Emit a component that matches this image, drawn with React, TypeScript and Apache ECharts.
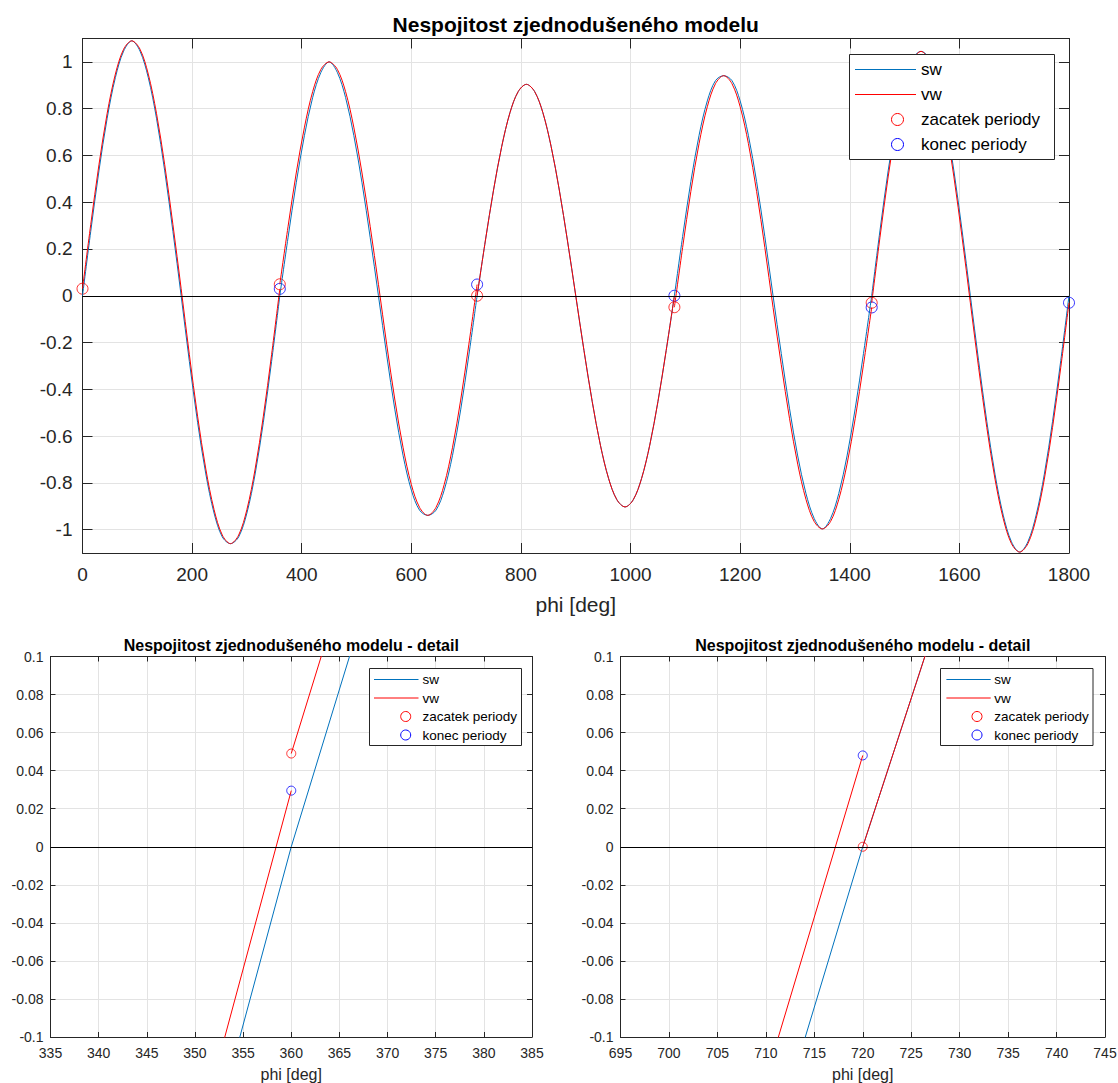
import React, { useEffect, useRef } from "react";
import * as echarts from "echarts";

const FONT = 'Arial, "Liberation Sans", Helvetica, sans-serif';
const AXIS_COLOR = "#262626";
const GRID_COLOR = "#e3e3e3";
const SW_COLOR = "#0072BD";
const VW_COLOR = "#FF0000";
const START_COLOR = "#FF0000";
const END_COLOR = "#0000FF";

// Angle samples within one period [deg]
const phiLocal = [0, 15, 30, 45, 60, 75, 90, 105, 120, 135, 150, 165, 180, 195, 210, 225, 240, 255, 270, 285, 300, 315, 330, 345, 360];
const periodStart = [0, 360, 720, 1080, 1440];

// sw per period
const swP0 = [0, 0.275, 0.534, 0.759, 0.933, 1.046, 1.09, 1.046, 0.933, 0.759, 0.534, 0.275, 0, -0.281, -0.541, -0.762, -0.929, -1.031, -1.06, -1.031, -0.929, -0.762, -0.541, -0.281, 0];
const swP1 = [0, 0.248, 0.483, 0.686, 0.848, 0.955, 1.0, 0.955, 0.848, 0.686, 0.483, 0.248, 0, -0.253, -0.488, -0.684, -0.831, -0.917, -0.939, -0.917, -0.831, -0.684, -0.488, -0.253, 0];
const swP2 = [0, 0.234, 0.452, 0.639, 0.783, 0.873, 0.904, 0.873, 0.783, 0.639, 0.452, 0.234, 0, -0.234, -0.452, -0.639, -0.782, -0.872, -0.903, -0.872, -0.782, -0.639, -0.452, -0.234, 0];
const swP3 = [0, 0.253, 0.488, 0.686, 0.833, 0.92, 0.941, 0.92, 0.833, 0.686, 0.488, 0.253, 0, -0.247, -0.481, -0.685, -0.845, -0.952, -0.997, -0.952, -0.845, -0.685, -0.481, -0.247, 0];
const swP4 = [0, 0.277, 0.534, 0.751, 0.916, 1.016, 1.045, 1.016, 0.916, 0.751, 0.534, 0.277, 0, -0.277, -0.537, -0.763, -0.938, -1.052, -1.096, -1.052, -0.938, -0.763, -0.537, -0.277, 0];

// vw per period (discontinuous at period boundaries)
const vwP0 = [0.03, 0.304, 0.56, 0.78, 0.948, 1.054, 1.09, 1.054, 0.948, 0.78, 0.56, 0.304, 0.03, -0.252, -0.515, -0.741, -0.914, -1.023, -1.06, -1.023, -0.914, -0.741, -0.515, -0.252, 0.0295];
const vwP1 = [0.049, 0.295, 0.525, 0.721, 0.873, 0.968, 1.0, 0.968, 0.873, 0.721, 0.525, 0.295, 0.049, -0.207, -0.446, -0.65, -0.807, -0.905, -0.939, -0.905, -0.807, -0.65, -0.446, -0.207, 0.048];
const vwP2 = [0, 0.234, 0.452, 0.639, 0.783, 0.873, 0.904, 0.873, 0.783, 0.639, 0.452, 0.234, 0, -0.234, -0.452, -0.639, -0.782, -0.872, -0.903, -0.872, -0.782, -0.639, -0.452, -0.234, 0];
const vwP3 = [-0.049, 0.206, 0.446, 0.651, 0.808, 0.907, 0.941, 0.907, 0.808, 0.651, 0.446, 0.206, -0.05, -0.295, -0.524, -0.72, -0.87, -0.965, -0.997, -0.965, -0.87, -0.72, -0.524, -0.295, -0.05];
const vwP4 = [-0.03, 0.248, 0.508, 0.73, 0.901, 1.008, 1.045, 1.008, 0.901, 0.73, 0.508, 0.248, -0.03, -0.306, -0.563, -0.784, -0.953, -1.06, -1.096, -1.06, -0.953, -0.784, -0.563, -0.306, -0.03];

// Period start / end points of vw
const startPhi = [0, 360, 720, 1080, 1440];
const startVal = [0.03, 0.049, 0, -0.049, -0.03];
const endPhi = [360, 720, 1080, 1440, 1800];
const endVal = [0.0295, 0.048, 0, -0.05, -0.03];

const yTicksMain = [-1, -0.8, -0.6, -0.4, -0.2, 0, 0.2, 0.4, 0.6, 0.8, 1];
const legendLabels = ["sw", "vw", "zacatek periody", "konec periody"];

const swPeriods = [swP0, swP1, swP2, swP3, swP4];
const vwPeriods = [vwP0, vwP1, vwP2, vwP3, vwP4];

type Panel = {
  left: number; top: number; width: number; height: number;
  xMin: number; xMax: number; xStep: number;
  yMin: number; yMax: number; yStep?: number; yTicks?: number[];
  tickFont: number; nameFont: number; titleFont: number; title: string; titleY: number;
  tickLen: number; xLabelMargin: number; yLabelMargin: number; nameGap: number;
  symbolSize: number; smooth: number | boolean;
  legend: { x: number; y: number; w: number; h: number; rows: number[]; lx0: number; lx1: number; mx: number; tx: number; font: number; r: number };
};

const panels: Panel[] = [
  {
    left: 82.5, top: 38.5, width: 986.5, height: 514.5,
    xMin: 0, xMax: 1800, xStep: 200, yMin: -1.1, yMax: 1.1, yTicks: yTicksMain,
    tickFont: 19, nameFont: 21, titleFont: 21, title: "Nespojitost zjednodušeného modelu", titleY: 24,
    tickLen: 10, xLabelMargin: 12, yLabelMargin: 10, nameGap: 41, symbolSize: 11, smooth: 0.33,
    legend: { x: 849.5, y: 54.5, w: 205, h: 105, rows: [69.5, 94.5, 119.5, 144.5], lx0: 855, lx1: 916, mx: 897.5, tx: 921, font: 17, r: 6 },
  },
  {
    left: 50.5, top: 656.5, width: 481.5, height: 380.5,
    xMin: 335, xMax: 385, xStep: 5, yMin: -0.1, yMax: 0.1, yStep: 0.02,
    tickFont: 14, nameFont: 16, titleFont: 16, title: "Nespojitost zjednodušeného modelu - detail", titleY: 645,
    tickLen: 5, xLabelMargin: 9, yLabelMargin: 7, nameGap: 29, symbolSize: 9, smooth: false,
    legend: { x: 369.5, y: 668.5, w: 152, h: 77, rows: [679.5, 698, 716.5, 735], lx0: 374, lx1: 418.5, mx: 405.7, tx: 422.5, font: 13.5, r: 5 },
  },
  {
    left: 620.5, top: 656.5, width: 484.5, height: 380.5,
    xMin: 695, xMax: 745, xStep: 5, yMin: -0.1, yMax: 0.1, yStep: 0.02,
    tickFont: 14, nameFont: 16, titleFont: 16, title: "Nespojitost zjednodušeného modelu - detail", titleY: 645,
    tickLen: 5, xLabelMargin: 9, yLabelMargin: 7, nameGap: 29, symbolSize: 9, smooth: false,
    legend: { x: 940.5, y: 668.5, w: 152.5, h: 77, rows: [679.5, 698, 716.5, 735], lx0: 946.4, lx1: 990.7, mx: 977, tx: 994.3, font: 13.5, r: 5 },
  },
];

function legendGraphic(p: Panel) {
  const L = p.legend;
  const els: any[] = [
    { type: "rect", z: 100, shape: { x: L.x, y: L.y, width: L.w, height: L.h }, style: { fill: "#ffffff", stroke: AXIS_COLOR, lineWidth: 1 } },
  ];
  legendLabels.forEach((label, i) => {
    const y = L.rows[i];
    if (i < 2) {
      els.push({ type: "line", z: 101, shape: { x1: L.lx0, y1: y, x2: L.lx1, y2: y }, style: { stroke: i === 0 ? SW_COLOR : VW_COLOR, lineWidth: 1 } });
    } else {
      els.push({ type: "circle", z: 101, shape: { cx: L.mx, cy: y, r: L.r }, style: { fill: "transparent", stroke: i === 2 ? START_COLOR : END_COLOR, lineWidth: 1 } });
    }
    els.push({ type: "text", z: 101, x: L.tx, y, style: { text: label, fontSize: L.font, fontFamily: FONT, fill: "#000000", align: "left", verticalAlign: "middle" } });
  });
  return els;
}

const plainNumber = (v: number) => String(v);

function buildOption() {
  const grid: any[] = [];
  const xAxis: any[] = [];
  const yAxis: any[] = [];
  const series: any[] = [];
  const graphic: any[] = [];

  panels.forEach((p, gi) => {
    grid.push({ left: p.left, top: p.top, width: p.width, height: p.height, containLabel: false, outerBoundsMode: "none" });
    const tick = { show: true, inside: true, length: p.tickLen, lineStyle: { color: AXIS_COLOR, width: 1 } };
    const line = { show: true, onZero: false, lineStyle: { color: AXIS_COLOR, width: 1 } };
    xAxis.push({
      gridIndex: gi, type: "value", position: "bottom", min: p.xMin, max: p.xMax, interval: p.xStep,
      axisLine: line, axisTick: tick,
      axisLabel: { color: AXIS_COLOR, fontSize: p.tickFont, fontFamily: FONT, margin: p.xLabelMargin, formatter: plainNumber },
      splitLine: { show: true, lineStyle: { color: GRID_COLOR, width: 1 } },
      name: "phi [deg]", nameLocation: "middle", nameGap: p.nameGap,
      nameTextStyle: { color: AXIS_COLOR, fontSize: p.nameFont, fontFamily: FONT },
    });
    xAxis.push({
      gridIndex: gi, type: "value", position: "top", min: p.xMin, max: p.xMax, interval: p.xStep,
      axisLine: line, axisTick: tick, axisLabel: { show: false }, splitLine: { show: false },
    });
    const yTickCfg: any = p.yTicks ? { ...tick, customValues: p.yTicks } : tick;
    const yLeft: any = {
      gridIndex: gi, type: "value", position: "left", min: p.yMin, max: p.yMax,
      axisLine: line, axisTick: yTickCfg,
      axisLabel: { color: AXIS_COLOR, fontSize: p.tickFont, fontFamily: FONT, margin: p.yLabelMargin, ...(p.yTicks ? { customValues: p.yTicks } : {}) },
      splitLine: { show: true, lineStyle: { color: GRID_COLOR, width: 1 } },
    };
    const yRight: any = {
      gridIndex: gi, type: "value", position: "right", min: p.yMin, max: p.yMax,
      axisLine: line, axisTick: yTickCfg, axisLabel: { show: false }, splitLine: { show: false },
    };
    if (p.yStep) { yLeft.interval = p.yStep; yRight.interval = p.yStep; }
    yAxis.push(yLeft, yRight);

    const ax = { xAxisIndex: gi * 2, yAxisIndex: gi * 2 };

    periodStart.forEach((s, k) => {
      series.push({
        type: "line", name: "sw", ...ax, silent: true, clip: true, symbol: "none", smooth: p.smooth,
        lineStyle: { color: SW_COLOR, width: 1 }, itemStyle: { color: SW_COLOR },
        data: phiLocal.map((d, i) => [s + d, swPeriods[k][i]]),
        ...(k === 0
          ? {
              markLine: {
                silent: true, symbol: ["none", "none"], label: { show: false },
                lineStyle: { color: "#000000", width: 1, type: "solid" }, emphasis: { disabled: true },
                data: [{ yAxis: 0 }],
              },
            }
          : {}),
      });
    });
    periodStart.forEach((s, k) => {
      series.push({
        type: "line", name: "vw", ...ax, silent: true, clip: true, symbol: "none", smooth: p.smooth,
        lineStyle: { color: VW_COLOR, width: 1 }, itemStyle: { color: VW_COLOR },
        data: phiLocal.map((d, i) => [s + d, vwPeriods[k][i]]),
      });
    });
    series.push({
      type: "scatter", name: "zacatek periody", ...ax, silent: true, clip: true, symbol: "circle", symbolSize: p.symbolSize,
      itemStyle: { color: "transparent", borderColor: START_COLOR, borderWidth: 1 },
      data: startPhi.map((x, i) => [x, startVal[i]]),
    });
    series.push({
      type: "scatter", name: "konec periody", ...ax, silent: true, clip: true, symbol: "circle", symbolSize: p.symbolSize,
      itemStyle: { color: "transparent", borderColor: END_COLOR, borderWidth: 1 },
      data: endPhi.map((x, i) => [x, endVal[i]]),
    });

    graphic.push({
      type: "text", z: 100, x: p.left + p.width / 2, y: p.titleY,
      style: { text: p.title, fontSize: p.titleFont, fontWeight: "bold", fontFamily: FONT, fill: "#000000", align: "center", verticalAlign: "middle" },
    });
    graphic.push(...legendGraphic(p));
  });

  return {
    animation: false,
    backgroundColor: "#ffffff",
    textStyle: { fontFamily: FONT },
    grid, xAxis, yAxis, series, graphic,
  };
}

export default function App() {
  const ref = useRef<HTMLDivElement>(null);
  useEffect(() => {
    if (!ref.current) return;
    const chart = echarts.init(ref.current, undefined, { renderer: "svg" });
    chart.setOption(buildOption() as any);
    return () => chart.dispose();
  }, []);
  return (
    <div
      ref={ref}
      style={{ position: "absolute", left: 0, top: 0, width: 1118, height: 1083, background: "#ffffff" }}
    />
  );
}
